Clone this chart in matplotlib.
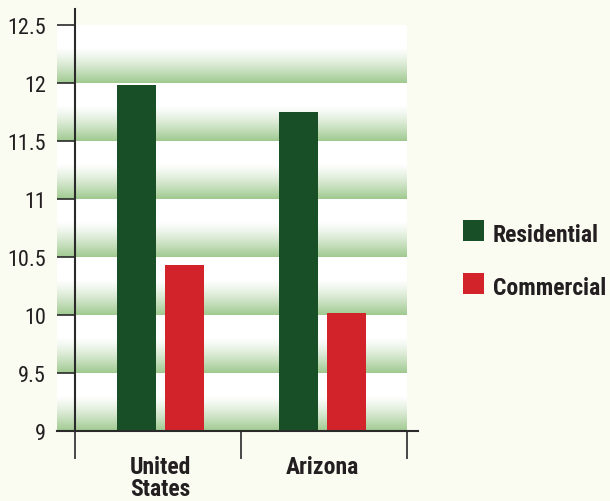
import numpy as np
import matplotlib
matplotlib.use("Agg")
import matplotlib.pyplot as plt
from matplotlib.patches import Rectangle
from matplotlib.colors import LinearSegmentedColormap

categories = ["United\nStates", "Arizona"]
residential = [11.98, 11.75]
commercial = [10.43, 10.02]
series_names = ["Residential", "Commercial"]
yticks = [9, 9.5, 10, 10.5, 11, 11.5, 12, 12.5]
ytick_labels = ["9", "9.5", "10", "10.5", "11", "11.5", "12", "12.5"]

BG = "#fafcf2"
GREEN = "#184f27"
RED = "#d2232a"
BAND = "#9fc98f"
TXT = "#231f20"
FONT = ["Roboto Condensed", "DejaVu Sans"]

W, H = 610, 502
fig = plt.figure(figsize=(W/100, H/100), dpi=100, facecolor=BG)
ax = fig.add_axes([57/W, (H-432)/H, 361/W, 422/H])
ax.set_facecolor("none")

xl = -(75-57)/166
xr = 2 + 11/166
ymax = 9 + 422/116

# gradient bands: green at the bottom of each band (row 0, origin lower), white at the top
cmap = LinearSegmentedColormap.from_list("band", ["white", BAND], N=256)
t = np.linspace(0, 1, 200)            # 0 = bottom, 1 = top
g = np.clip((0.62 - t) / 0.62, 0, 1) ** 1.3
grad = g.reshape(-1, 1)
for lo, hi in zip(yticks[:-1], yticks[1:]):
    ax.imshow(grad, cmap=cmap, vmin=0, vmax=1, aspect="auto", extent=(xl, 2, lo, hi),
              origin="lower", zorder=0, interpolation="bilinear")

centers = np.array([0.515, 1.49])
w = 39/166
off = 24/166
ax.bar(centers - off, residential, width=w, color=GREEN, zorder=2)
ax.bar(centers + off, commercial, width=w, color=RED, zorder=2)
ax.set_ylim(9, ymax)
ax.set_xlim(xl, xr)

for s in ["top", "right"]:
    ax.spines[s].set_visible(False)
ax.spines["left"].set_position(("data", 0))
for s in ["left", "bottom"]:
    ax.spines[s].set_color("#2a2a2a")
    ax.spines[s].set_linewidth(1.5)
    ax.spines[s].set_zorder(3)

ax.set_yticks(yticks)
ax.set_yticklabels(ytick_labels, family=FONT, fontsize=16, color=TXT)
ax.tick_params(axis="y", direction="out", length=13, width=1.2, color="#2a2a2a", pad=8)

ax.set_xticks([0, 1, 2])
ax.set_xticklabels([])
ax.tick_params(axis="x", which="major", direction="out", length=20, width=1.2, color="#2a2a2a")
ax.set_xticks(centers, minor=True)
ax.set_xticklabels(categories, minor=True, family=FONT, fontsize=17, fontweight="bold",
                   color=TXT, linespacing=0.98)
ax.tick_params(axis="x", which="minor", length=0, pad=17)

# legend
colors = [GREEN, RED]
for i, (name, col) in enumerate(zip(series_names, colors)):
    top = 221 + 53 * i
    fig.patches.append(Rectangle((463/W, 1 - (top + 21)/H), 21/W, 21/H,
                                 transform=fig.transFigure, facecolor=col, edgecolor="none"))
    fig.text(493/W, 1 - (top + 21)/H, name, family=FONT, fontsize=17, fontweight="bold",
             color=TXT, va="baseline", ha="left")

fig.savefig("out.png", dpi=100, facecolor=BG)
